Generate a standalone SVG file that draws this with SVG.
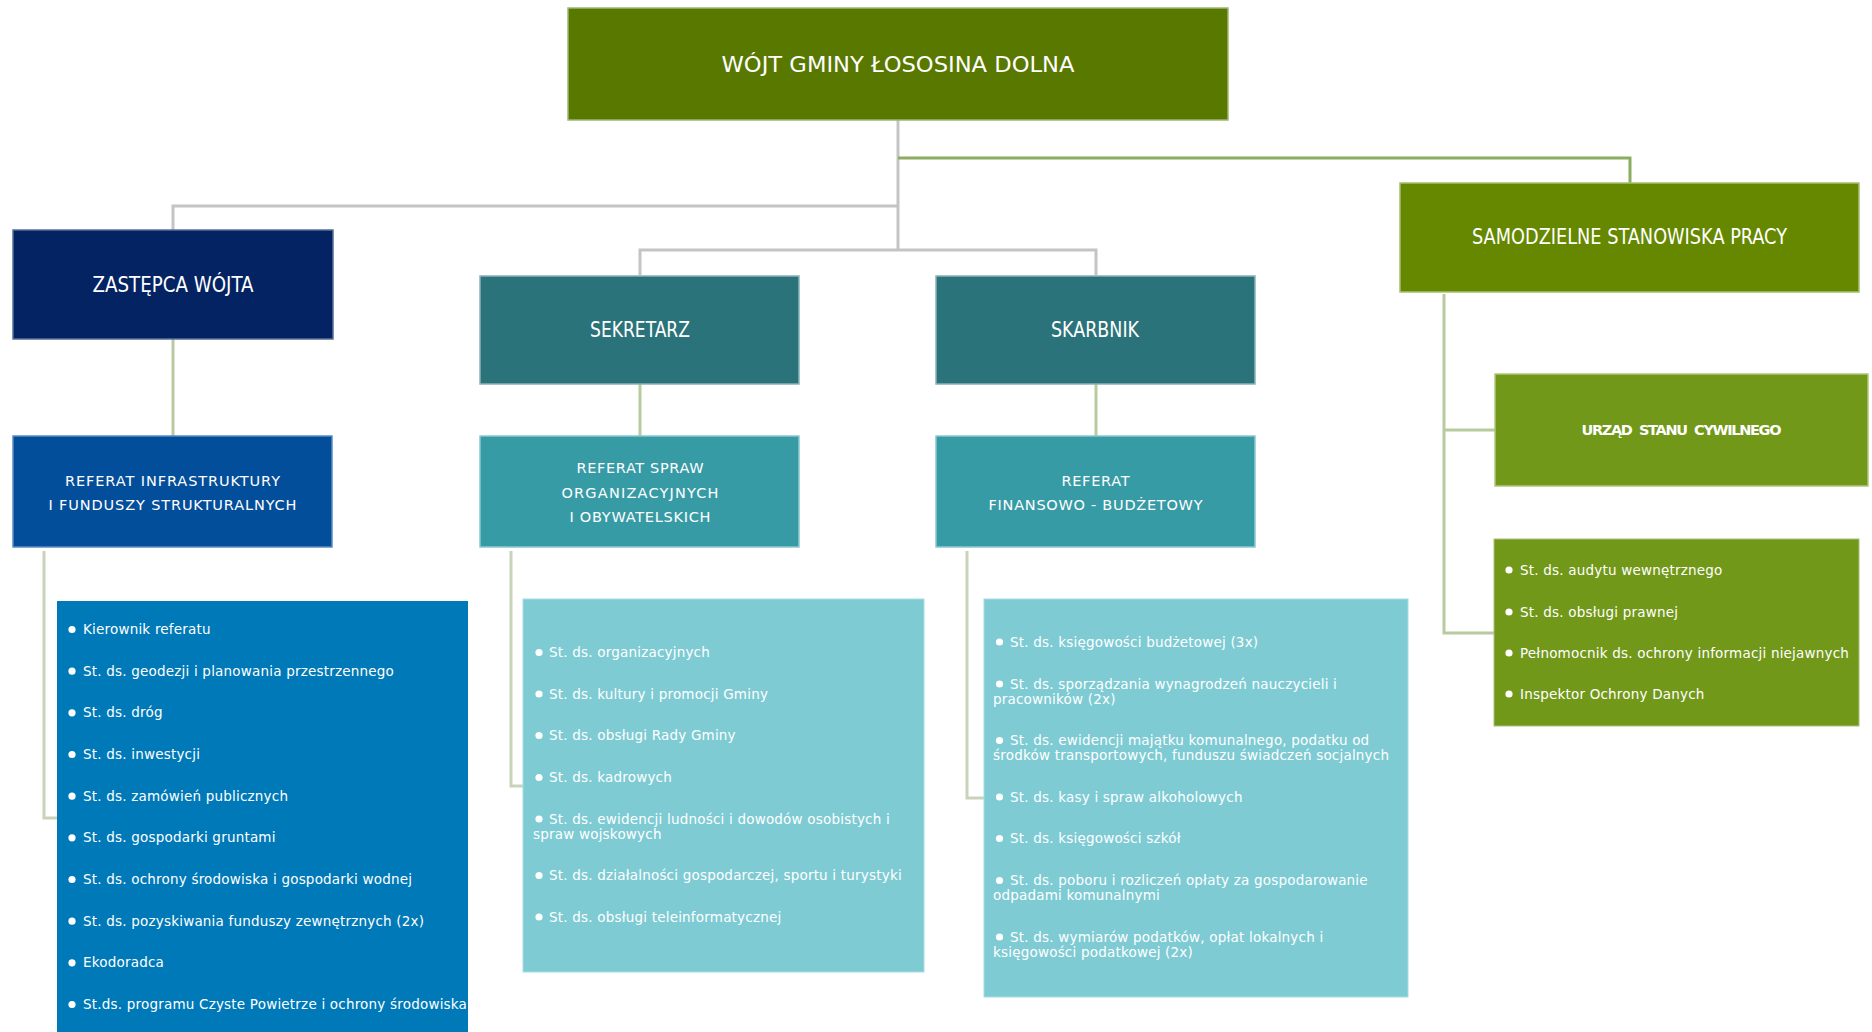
<svg xmlns="http://www.w3.org/2000/svg" width="1872" height="1032" viewBox="0 0 1872 1032">
<style>
.hdr{font-family:"Liberation Sans Narrow","DejaVu Sans Condensed","Liberation Sans",sans-serif;font-size:21px;fill:#fff;text-anchor:middle}
.ref{font-family:"DejaVu Sans","Liberation Sans",sans-serif;font-size:14.5px;fill:#fff;text-anchor:middle}
.li{font-family:"DejaVu Sans","Liberation Sans",sans-serif;font-size:13.5px;fill:#fff;letter-spacing:0.2px}
.bul{fill:#fff}
.box{stroke-width:1.5}
.cg{fill:none;stroke:#c4c4c4;stroke-width:3}
.cgr{fill:none;stroke:#8cad5f;stroke-width:3}
.cl{fill:none;stroke:#c8d3bb;stroke-width:3}
.cs{fill:none;stroke:#b8cb9e;stroke-width:3}
</style>
<rect width="1872" height="1032" fill="#fff"/>
<g id="connectors">
  <path class="cg" d="M898,120 V250"/>
  <path class="cg" d="M898,206 H173 V230"/>
  <path class="cg" d="M640,275 V250 H1096 V275"/>
  <path class="cgr" d="M898,158 H1630 V183"/>
  <path class="cs" d="M173,339 V436"/>
  <path class="cs" d="M640,384 V436"/>
  <path class="cs" d="M1096,384 V436"/>
  <path class="cl" d="M44,551 V818 H57"/>
  <path class="cl" d="M511,551 V786 H523"/>
  <path class="cl" d="M967,551 V798 H984"/>
  <path class="cs" d="M1444,294 V633 H1494"/>
  <path class="cs" d="M1444,430 H1495"/>
</g>
<g id="wojt">
  <rect class="box" x="568" y="8" width="660" height="112" fill="#587800" stroke="#9cb870"/>
  <text class="hdr" x="898" y="72" font-size="23" textLength="353" lengthAdjust="spacingAndGlyphs">WÓJT GMINY ŁOSOSINA DOLNA</text>
</g>
<g id="zastepca">
  <rect class="box" x="13" y="230" width="320" height="109" fill="#032363" stroke="#5a6f99"/>
  <text class="hdr" x="173" y="292" textLength="161" lengthAdjust="spacingAndGlyphs">ZASTĘPCA WÓJTA</text>
</g>
<g id="sekretarz">
  <rect class="box" x="480" y="276" width="319" height="108" fill="#2b737a" stroke="#8ab3b6"/>
  <text class="hdr" x="640" y="337" textLength="100" lengthAdjust="spacingAndGlyphs">SEKRETARZ</text>
</g>
<g id="skarbnik">
  <rect class="box" x="936" y="276" width="319" height="108" fill="#2b737a" stroke="#8ab3b6"/>
  <text class="hdr" x="1095" y="337" textLength="88" lengthAdjust="spacingAndGlyphs">SKARBNIK</text>
</g>
<g id="samodzielne">
  <rect class="box" x="1400" y="183" width="459" height="109" fill="#658800" stroke="#a6c070"/>
  <text class="hdr" x="1629.5" y="244" textLength="315" lengthAdjust="spacingAndGlyphs">SAMODZIELNE STANOWISKA PRACY</text>
</g>
<g id="referat-infra">
  <rect class="box" x="13" y="436" width="319" height="111" fill="#034e9a" stroke="#5b8cc4"/>
  <text class="ref" x="172.5" y="485.5" textLength="215" lengthAdjust="spacing">REFERAT INFRASTRUKTURY</text>
  <text class="ref" x="172.5" y="509.7" textLength="248" lengthAdjust="spacing">I FUNDUSZY STRUKTURALNYCH</text>
</g>
<g id="referat-spraw">
  <rect class="box" x="480" y="436" width="319" height="111" fill="#379ba6" stroke="#8cc8cf"/>
  <text class="ref" x="640" y="473.4" textLength="127" lengthAdjust="spacing">REFERAT SPRAW</text>
  <text class="ref" x="640" y="497.6" textLength="157" lengthAdjust="spacing">ORGANIZACYJNYCH</text>
  <text class="ref" x="640" y="521.8" textLength="141" lengthAdjust="spacing">I OBYWATELSKICH</text>
</g>
<g id="referat-fin">
  <rect class="box" x="936" y="436" width="319" height="111" fill="#379ba6" stroke="#8cc8cf"/>
  <text class="ref" x="1095.5" y="485.5" textLength="68" lengthAdjust="spacing">REFERAT</text>
  <text class="ref" x="1095.5" y="509.7" textLength="214" lengthAdjust="spacing">FINANSOWO - BUDŻETOWY</text>
</g>
<g id="usc">
  <rect class="box" x="1495" y="374" width="373" height="112" fill="#72981a" stroke="#b0c87c"/>
  <text class="ref" x="1681.5" y="435" font-size="13.5" font-weight="bold" xml:space="preserve" textLength="200" lengthAdjust="spacing">URZĄD  STANU  CYWILNEGO</text>
</g>
<g id="lista-infra">
  <rect x="57" y="601" width="411" height="440" fill="#0079b8"/>
  <circle class="bul" cx="72" cy="629.5" r="3.6"/><text class="li" x="83" y="634">Kierownik referatu</text>
  <circle class="bul" cx="72" cy="671.2" r="3.6"/><text class="li" x="83" y="675.7">St. ds. geodezji i planowania przestrzennego</text>
  <circle class="bul" cx="72" cy="712.8" r="3.6"/><text class="li" x="83" y="717.3">St. ds. dróg</text>
  <circle class="bul" cx="72" cy="754.5" r="3.6"/><text class="li" x="83" y="759">St. ds. inwestycji</text>
  <circle class="bul" cx="72" cy="796.2" r="3.6"/><text class="li" x="83" y="800.7">St. ds. zamówień publicznych</text>
  <circle class="bul" cx="72" cy="837.8" r="3.6"/><text class="li" x="83" y="842.3">St. ds. gospodarki gruntami</text>
  <circle class="bul" cx="72" cy="879.5" r="3.6"/><text class="li" x="83" y="884">St. ds. ochrony środowiska i gospodarki wodnej</text>
  <circle class="bul" cx="72" cy="921.2" r="3.6"/><text class="li" x="83" y="925.7">St. ds. pozyskiwania funduszy zewnętrznych (2x)</text>
  <circle class="bul" cx="72" cy="962.8" r="3.6"/><text class="li" x="83" y="967.3">Ekodoradca</text>
  <circle class="bul" cx="72" cy="1004.5" r="3.6"/><text class="li" x="83" y="1009">St.ds. programu Czyste Powietrze i ochrony środowiska</text>
</g>
<g id="lista-spraw">
  <rect x="523" y="599" width="401" height="373" fill="#7ecbd4" stroke="#a8dde3"/>
  <circle class="bul" cx="539" cy="652.5" r="3.6"/><text class="li" x="549" y="657">St. ds. organizacyjnych</text>
  <circle class="bul" cx="539" cy="694" r="3.6"/><text class="li" x="549" y="698.5">St. ds. kultury i promocji Gminy</text>
  <circle class="bul" cx="539" cy="735.5" r="3.6"/><text class="li" x="549" y="740">St. ds. obsługi Rady Gminy</text>
  <circle class="bul" cx="539" cy="777.5" r="3.6"/><text class="li" x="549" y="782">St. ds. kadrowych</text>
  <circle class="bul" cx="539" cy="819" r="3.6"/><text class="li" x="549" y="823.5">St. ds. ewidencji ludności i dowodów osobistych i</text>
  <text class="li" x="533" y="838.5">spraw wojskowych</text>
  <circle class="bul" cx="539" cy="875.5" r="3.6"/><text class="li" x="549" y="880">St. ds. działalności gospodarczej, sportu i turystyki</text>
  <circle class="bul" cx="539" cy="917" r="3.6"/><text class="li" x="549" y="921.5">St. ds. obsługi teleinformatycznej</text>
</g>
<g id="lista-fin">
  <rect x="984" y="599" width="424" height="398" fill="#7ecbd4" stroke="#a8dde3"/>
  <circle class="bul" cx="999.5" cy="642" r="3.6"/><text class="li" x="1010" y="646.5">St. ds. księgowości budżetowej (3x)</text>
  <circle class="bul" cx="999.5" cy="684" r="3.6"/><text class="li" x="1010" y="688.5">St. ds. sporządzania wynagrodzeń nauczycieli i</text>
  <text class="li" x="993" y="703.5">pracowników (2x)</text>
  <circle class="bul" cx="999.5" cy="740.5" r="3.6"/><text class="li" x="1010" y="745">St. ds. ewidencji majątku komunalnego, podatku od</text>
  <text class="li" x="993" y="760">środków transportowych, funduszu świadczeń socjalnych</text>
  <circle class="bul" cx="999.5" cy="797" r="3.6"/><text class="li" x="1010" y="801.5">St. ds. kasy i spraw alkoholowych</text>
  <circle class="bul" cx="999.5" cy="838.5" r="3.6"/><text class="li" x="1010" y="843">St. ds. księgowości szkół</text>
  <circle class="bul" cx="999.5" cy="880.5" r="3.6"/><text class="li" x="1010" y="885">St. ds. poboru i rozliczeń opłaty za gospodarowanie</text>
  <text class="li" x="993" y="900">odpadami komunalnymi</text>
  <circle class="bul" cx="999.5" cy="937" r="3.6"/><text class="li" x="1010" y="941.5">St. ds. wymiarów podatków, opłat lokalnych i</text>
  <text class="li" x="993" y="956.5">księgowości podatkowej (2x)</text>
</g>
<g id="lista-samodzielne">
  <rect x="1494" y="539" width="365" height="187" fill="#72981a" stroke="#a9c27a"/>
  <circle class="bul" cx="1509" cy="570" r="3.6"/><text class="li" x="1520" y="574.5">St. ds. audytu wewnętrznego</text>
  <circle class="bul" cx="1509" cy="612" r="3.6"/><text class="li" x="1520" y="616.5">St. ds. obsługi prawnej</text>
  <circle class="bul" cx="1509" cy="653" r="3.6"/><text class="li" x="1520" y="657.5">Pełnomocnik ds. ochrony informacji niejawnych</text>
  <circle class="bul" cx="1509" cy="694" r="3.6"/><text class="li" x="1520" y="698.5">Inspektor Ochrony Danych</text>
</g>
</svg>
